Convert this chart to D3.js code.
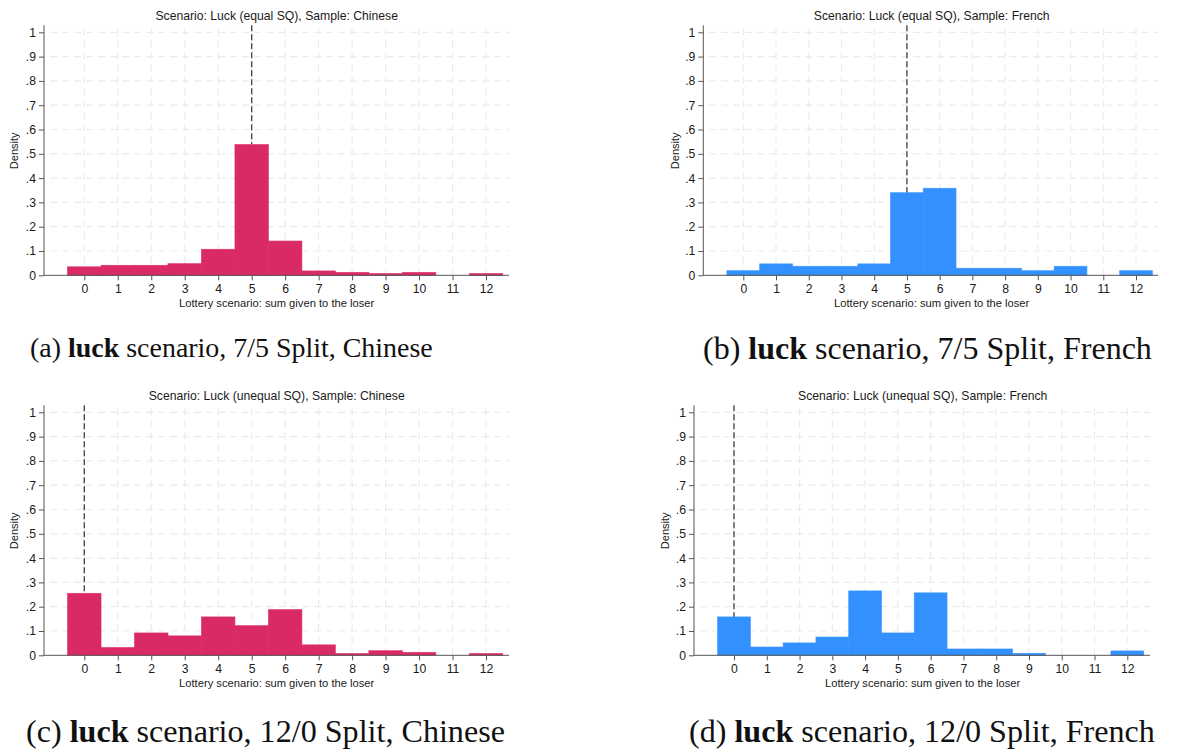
<!DOCTYPE html>
<html>
<head>
<meta charset="utf-8">
<script src="https://cdn.jsdelivr.net/npm/d3@7"></script>
<style>
  html, body { margin: 0; padding: 0; background: #ffffff; }
  svg { display: block; }
  .chart-text { font-family: "Liberation Sans", Arial, Helvetica, sans-serif; fill: #1a1a1a; }
  .caption { font-family: "Liberation Serif", "DejaVu Serif", serif; fill: #111; }
</style>
</head>
<body>
<svg id="fig" width="1192" height="751"></svg>
<script>
// Sum given to the loser (integer bins)
const bins = [0, 1, 2, 3, 4, 5, 6, 7, 8, 9, 10, 11, 12];

// Histogram densities per bin
const densEqualChinese   = [0.035, 0.041, 0.041, 0.048, 0.107, 0.538, 0.141, 0.018, 0.012, 0.007, 0.012, 0.000, 0.007];
const densEqualFrench    = [0.019, 0.047, 0.037, 0.037, 0.047, 0.340, 0.358, 0.029, 0.029, 0.019, 0.037, 0.000, 0.019];
const densUnequalChinese = [0.255, 0.032, 0.092, 0.080, 0.158, 0.122, 0.188, 0.043, 0.007, 0.019, 0.012, 0.000, 0.007];
const densUnequalFrench  = [0.158, 0.034, 0.051, 0.075, 0.265, 0.092, 0.257, 0.026, 0.026, 0.008, 0.000, 0.000, 0.018];

// Status-quo amount marked by the dashed reference line
const refEqual = 5;
const refUnequal = 0;

// Axis ticks
const yTicks = [0, 0.1, 0.2, 0.3, 0.4, 0.5, 0.6, 0.7, 0.8, 0.9, 1];
const yTickLabels = ["0", ".1", ".2", ".3", ".4", ".5", ".6", ".7", ".8", ".9", "1"];
const xTicks = bins;

// Text
const panelTitles = [
  "Scenario: Luck (equal SQ), Sample: Chinese",
  "Scenario: Luck (equal SQ), Sample: French",
  "Scenario: Luck (unequal SQ), Sample: Chinese",
  "Scenario: Luck (unequal SQ), Sample: French"
];
const yTitle = "Density";
const xTitle = "Lottery scenario: sum given to the loser";
const captionLetters = ["(a)", "(b)", "(c)", "(d)"];
const captionBold = "luck";
const captionRest = [
  " scenario, 7/5 Split, Chinese",
  " scenario, 7/5 Split, French",
  " scenario, 12/0 Split, Chinese",
  " scenario, 12/0 Split, French"
];

const crimson = "#d92a67";
const blue = "#3390ff";

// Frame geometry for each panel
const frames = [
  { axisX: 44,    x0: 84.3,  x12: 486,    right: 509,  yTop: 32.3,  yZero: 275.3, titleX: 276.7, titleY: 20,  densX: 14,    capX: 30,  capY: 357, capW: 403 },
  { axisX: 703.3, x0: 743.3, x12: 1136,   right: 1158, yTop: 32.3,  yZero: 275.3, titleX: 931.7, titleY: 20,  densX: 675,   capX: 703, capY: 359, capW: 449 },
  { axisX: 44,    x0: 84.3,  x12: 486,    right: 509,  yTop: 412.3, yZero: 655.3, titleX: 276.7, titleY: 400, densX: 14,    capX: 26,  capY: 742, capW: 479 },
  { axisX: 694,   x0: 734,   x12: 1127.3, right: 1150, yTop: 412.3, yZero: 655.3, titleX: 922.7, titleY: 400, densX: 665,   capX: 689, capY: 742, capW: 466 }
];

const panels = [
  { values: densEqualChinese,   ref: refEqual,   color: crimson },
  { values: densEqualFrench,    ref: refEqual,   color: blue },
  { values: densUnequalChinese, ref: refUnequal, color: crimson },
  { values: densUnequalFrench,  ref: refUnequal, color: blue }
];

const svg = d3.select("#fig");

panels.forEach((p, i) => {
  const f = frames[i];
  const g = svg.append("g");

  const x = d3.scaleLinear().domain([0, 12]).range([f.x0, f.x12]);
  const y = d3.scaleLinear().domain([0, 1]).range([f.yZero, f.yTop]);
  const topY = f.yTop - 7;

  // grid
  g.append("g").selectAll("line.hg").data(yTicks.slice(1)).join("line")
    .attr("x1", f.axisX + 6).attr("x2", f.right)
    .attr("y1", d => y(d)).attr("y2", d => y(d))
    .attr("stroke", "#ebebeb").attr("stroke-width", 1.2)
    .attr("stroke-dasharray", "7,5");
  g.append("g").selectAll("line.vg").data(xTicks).join("line")
    .attr("x1", d => x(d)).attr("x2", d => x(d))
    .attr("y1", topY + 3).attr("y2", f.yZero)
    .attr("stroke", "#ebebeb").attr("stroke-width", 1.2)
    .attr("stroke-dasharray", "7,5");

  // reference line at the status-quo amount
  const refVal = p.values[bins.indexOf(p.ref)];
  g.append("line")
    .attr("x1", x(p.ref)).attr("x2", x(p.ref))
    .attr("y1", topY).attr("y2", y(refVal))
    .attr("stroke", "#4d4d4d").attr("stroke-width", 1.4)
    .attr("stroke-dasharray", "6,3");

  // bars
  g.append("g").selectAll("rect").data(bins.map((b, k) => ({ b, v: p.values[k] })).filter(d => d.v > 0)).join("rect")
    .attr("x", d => x(d.b - 0.5))
    .attr("width", d => x(d.b + 0.5) - x(d.b - 0.5))
    .attr("y", d => y(d.v))
    .attr("height", d => y(0) - y(d.v))
    .attr("fill", p.color)
    .attr("stroke", p.color).attr("stroke-opacity", 0.75).attr("stroke-width", 0.8);

  // axes
  const yAxis = d3.axisLeft(y).tickValues(yTicks)
    .tickFormat((d, k) => yTickLabels[k]).tickSize(5).tickPadding(3);
  const ya = g.append("g").attr("transform", `translate(${f.axisX},0)`).call(yAxis);
  ya.select(".domain").remove();
  ya.selectAll(".tick line").attr("stroke", "#555");
  ya.selectAll(".tick text").attr("class", "chart-text").attr("font-size", 12.2)
    .attr("font-family", null).attr("fill", "#1a1a1a");

  const xAxis = d3.axisBottom(x).tickValues(xTicks).tickSize(5).tickPadding(4);
  const xa = g.append("g").attr("transform", `translate(0,${f.yZero})`).call(xAxis);
  xa.select(".domain").remove();
  xa.selectAll(".tick line").attr("stroke", "#555");
  xa.selectAll(".tick text").attr("class", "chart-text").attr("font-size", 12.2)
    .attr("font-family", null).attr("fill", "#1a1a1a");

  // axis lines
  g.append("line").attr("x1", f.axisX).attr("x2", f.axisX)
    .attr("y1", topY).attr("y2", f.yZero + 0.5)
    .attr("stroke", "#555").attr("stroke-width", 1);
  g.append("line").attr("x1", f.axisX).attr("x2", f.right)
    .attr("y1", f.yZero).attr("y2", f.yZero)
    .attr("stroke", "#555").attr("stroke-width", 1);

  // titles
  g.append("text").attr("class", "chart-text")
    .attr("x", f.titleX).attr("y", f.titleY)
    .attr("text-anchor", "middle").attr("font-size", 12.2)
    .text(panelTitles[i]);
  g.append("text").attr("class", "chart-text")
    .attr("x", f.titleX).attr("y", f.yZero + 32)
    .attr("text-anchor", "middle").attr("font-size", 11.2)
    .text(xTitle);
  g.append("text").attr("class", "chart-text")
    .attr("transform", `translate(${f.densX + 4},${(y(0) + y(1)) / 2 - 3}) rotate(-90)`)
    .attr("text-anchor", "middle").attr("font-size", 11)
    .text(yTitle);

  // caption below the panel, sized to its width
  const cap = svg.append("text").attr("class", "caption")
    .attr("x", f.capX).attr("y", f.capY).attr("font-size", 20);
  cap.append("tspan").text(captionLetters[i] + " ");
  cap.append("tspan").attr("font-weight", "bold").text(captionBold);
  cap.append("tspan").text(captionRest[i]);
  const w = cap.node().getComputedTextLength();
  cap.attr("font-size", 20 * f.capW / w);
});
</script>
</body>
</html>
